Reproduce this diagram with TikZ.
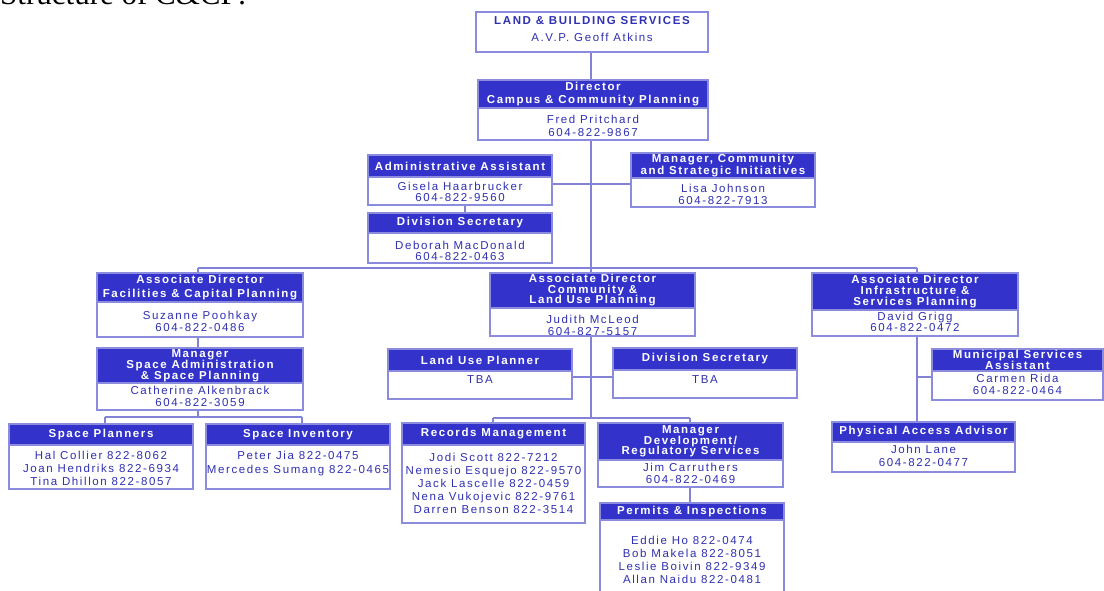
\documentclass[tikz,border=0pt]{standalone}
\usepackage{fontspec}
\newfontfamily\orgfont{Liberation Sans}[LetterSpace=14]
\newfontfamily\serifttl{Liberation Serif}
\definecolor{hdrblue}{RGB}{51,51,204}
\definecolor{txtblue}{RGB}{48,48,178}
\definecolor{bord}{RGB}{140,140,222}
\definecolor{conn}{RGB}{130,130,215}
\tikzset{
  obody/.style={draw=bord, line width=1.2pt, fill=white, inner sep=0pt, outer sep=0pt},
  ohead/.style={fill=hdrblue, draw=bord, line width=1.2pt, inner sep=0pt, outer sep=0pt, text=white, align=center,
                font=\orgfont\bfseries\fontsize{11.5}{12}\selectfont},
  otext/.style={inner sep=0pt, text=txtblue, align=center, font=\orgfont\fontsize{11.5}{12}\selectfont},
  link/.style={draw=conn, line width=1.3pt}
}
\newcommand\obox[9]{%
  \node[obody, anchor=north west, minimum width={(#4-#2)*1pt}, minimum height={(#6-#3)*1pt}] (#1) at (#2,#3) {};
  \node[ohead, anchor=north west, minimum width={(#4-#2)*1pt}, minimum height={(#5-#3)*1pt}] (#1h) at (#2,#3) {#7};
  \node[otext] (#1t) at ({(#2+#4)/2},#8) {#9};
}
\begin{document}
\begin{tikzpicture}[x=1pt,y=-1pt]
\useasboundingbox (0,0) rectangle (1104,590);
\clip (0,0) rectangle (1104,590);
\node[anchor=base west, inner sep=0pt, font=\serifttl\fontsize{31}{31}\selectfont] (title) at (0,4) {Structure of C\&CP:};

% junction coordinates
\coordinate (lowbar) at (591,418);
\coordinate (leftx) at (198,268);
\coordinate (rightx) at (917,268);
\coordinate (spbar) at (198,417);
\coordinate (splx) at (105,417);
\coordinate (sinvx) at (302,417);
\coordinate (recx) at (493,418);
\coordinate (mdrx) at (690,418);
\coordinate (munj) at (917,377);

% connectors (drawn first, boxes on top)
\draw[link] (591,52) -- (591,80);
\draw[link] (591,140) -- (lowbar);
\draw[link] (leftx) -- (rightx);
\draw[link] (552,184) -- (631,184);
\draw[link] (465,205) -- (465,213);
\draw[link] (leftx) -- (198,273);
\draw[link] (198,337) -- (198,348);
\draw[link] (198,410) -- (spbar);
\draw[link] (splx) -- (sinvx);
\draw[link] (splx) -- (105,424);
\draw[link] (sinvx) -- (302,424);
\draw[link] (572,377) -- (613,377);
\draw[link] (recx) -- (mdrx);
\draw[link] (recx) -- (493,423);
\draw[link] (mdrx) -- (690,423);
\draw[link] (690,487) -- (690,503);
\draw[link] (rightx) -- (917,422);
\draw[link] (munj) -- (932,377);

% top box
\node[obody, anchor=north west, minimum width=232pt, minimum height=40pt] (lbs) at (476,12) {};
\node[otext] (lbst) at (592,29.5) {{\bfseries LAND \& BUILDING SERVICES}\\[5pt]A.V.P. Geoff Atkins};

\obox{dir}{478}{80}{708}{108}{140}{Director\\[1pt]Campus \& Community Planning}{125.5}{Fred Pritchard\\[1pt]604-822-9867}
\obox{adm}{368}{155}{552}{177}{205}{Administrative Assistant}{191.5}{Gisela Haarbrucker\\[-1pt]604-822-9560}
\obox{mcs}{631}{153}{815}{178}{207}{Manager, Community\\and Strategic Initiatives}{194}{Lisa Johnson\\604-822-7913}
\obox{dsa}{368}{213}{552}{233}{263}{Division Secretary}{250.5}{Deborah MacDonald\\[-1pt]604-822-0463}
\obox{adf}{97}{273}{303}{302}{337}{Associate Director\\[2pt]Facilities \& Capital Planning}{321}{Suzanne Poohkay\\604-822-0486}
\obox{msa}{97}{348}{303}{383}{410}{Manager\\[-1pt]Space Administration\\[-1pt]\& Space Planning}{396}{Catherine Alkenbrack\\604-822-3059}
\obox{spl}{9}{424}{193}{445}{489}{Space Planners}{468}{Hal Collier 822-8062\\[1pt]Joan Hendriks 822-6934\\[1pt]Tina Dhillon 822-8057}
\obox{sinv}{206}{424}{390}{445}{489}{Space Inventory}{464}{Peter Jia 822-0475\\[2pt]Mercedes Sumang 822-0465}
\obox{adc}{490}{273}{695}{308}{336}{Associate Director\\[-1.5pt]Community \&\\[-1.5pt]Land Use Planning}{325}{Judith McLeod\\604-827-5157}
\obox{lup}{388}{349}{572}{371}{399}{Land Use Planner}{380}{TBA}
\obox{dsb}{613}{348}{797}{370}{398}{Division Secretary}{380}{TBA}
\obox{adi}{812}{273}{1018}{310}{336}{Associate Director\\[-1pt]Infrastructure \&\\[-1pt]Services Planning}{321.5}{David Grigg\\[-1pt]604-822-0472}
\obox{mus}{932}{349}{1103}{371}{400}{Municipal Services\\[-1.5pt]Assistant}{384.5}{Carmen Rida\\604-822-0464}
\obox{paa}{832}{422}{1015}{442}{472}{Physical Access Advisor}{456}{John Lane\\[1pt]604-822-0477}
\obox{rec}{402}{423}{585}{445}{523}{Records Management}{483.5}{Jodi Scott 822-7212\\[1pt]Nemesio Esquejo 822-9570\\[1pt]Jack Lascelle 822-0459\\[1pt]Nena Vukojevic 822-9761\\[1pt]Darren Benson 822-3514}
\obox{mdr}{598}{423}{783}{460}{487}{Manager\\[-1.5pt]Development/\\[-1.5pt]Regulatory Services}{473.5}{Jim Carruthers\\604-822-0469}
\obox{pin}{600}{503}{784}{520}{600}{Permits \& Inspections}{559.5}{Eddie Ho 822-0474\\[1pt]Bob Makela 822-8051\\[1pt]Leslie Boivin 822-9349\\[1pt]Allan Naidu 822-0481}
\end{tikzpicture}
\end{document}
